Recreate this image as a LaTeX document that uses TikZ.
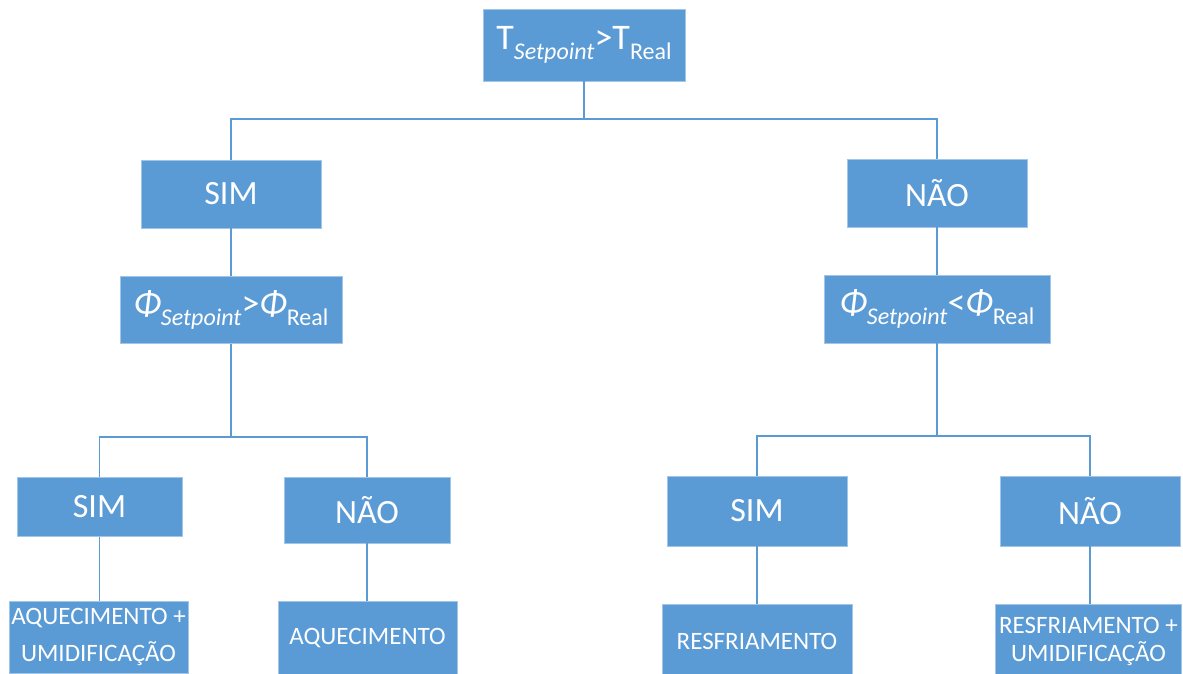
\documentclass[tikz,border=0pt]{standalone}
\usepackage{fontspec}
\setmainfont{Carlito}
\definecolor{officeblue}{HTML}{5B9BD5}
\definecolor{boxedge}{HTML}{A3C6E8}
\newcommand{\bigtxt}{\fontsize{34}{38}\selectfont}
\newcommand{\testtxt}{\fontsize{36}{40}\selectfont}
\newcommand{\midtxt}{\fontsize{25}{27}\selectfont}
\newcommand{\lowsub}[1]{\raisebox{-10pt}{\fontsize{24}{24}\selectfont #1}}
\begin{document}
\begin{tikzpicture}[x=1pt,y=-1pt,
  box/.style={fill=officeblue, draw=boxedge, line width=0.6pt, text=white,
              inner sep=0pt, align=center},
  answer/.style={box, font=\bigtxt},
  test/.style={box, font=\testtxt},
  action/.style={box, font=\midtxt},
  conn/.style={draw=officeblue, line width=1.4pt}]
\useasboundingbox (0,0) rectangle (1183,673);
\clip (0,0) rectangle (1183,673);

% root test
\node[test, minimum width=202pt, minimum height=72pt] (t) at (584,45)
  {T\lowsub{\textit{Setpoint}}>T\lowsub{Real}};

% first level answers
\node[answer, minimum width=180pt, minimum height=68pt] (simA) at (231,194) {SIM};
\node[answer, minimum width=180pt, minimum height=68pt] (naoA) at (937,193) {NÃO};

% humidity tests
\node[test, minimum width=222pt, minimum height=67pt] (phiL) at (231,310)
  {\textit{Φ}\lowsub{\textit{Setpoint}}>\textit{Φ}\lowsub{Real}};
\node[test, minimum width=226pt, minimum height=68pt] (phiR) at (937,309)
  {\textit{Φ}\lowsub{\textit{Setpoint}}<\textit{Φ}\lowsub{Real}};

% second level answers
\node[answer, minimum width=165pt, minimum height=59pt] (simL) at (99.5,507) {SIM};
\node[answer, minimum width=166pt, minimum height=66pt] (naoL) at (367,510) {NÃO};
\node[answer, minimum width=180pt, minimum height=70pt] (simR) at (757,511) {SIM};
\node[answer, minimum width=180pt, minimum height=70pt] (naoR) at (1090,511) {NÃO};

% actions
\node[action, minimum width=179pt, minimum height=72pt] (acA) at (98.5,637)
  {AQUECIMENTO +\\[10pt] UMIDIFICAÇÃO};
\node[action, minimum width=179pt, minimum height=74pt] (acB) at (367.5,638)
  {AQUECIMENTO};
\node[action, minimum width=190pt, minimum height=74pt] (acC) at (757,641)
  {RESFRIAMENTO};
\node[action, minimum width=186pt, minimum height=74pt] (acD) at (1088.5,641)
  {RESFRIAMENTO +\\[1pt] UMIDIFICAÇÃO};

% connectors
\draw[conn] (t.south) |- (simA.north |- 0,119) -- (simA.north);
\draw[conn] (t.south) |- (naoA.north |- 0,119) -- (naoA.north);
\draw[conn] (simA.south) -- (phiL.north);
\draw[conn] (naoA.south) -- (phiR.north);
\draw[conn] (phiL.south) |- (simL.north |- 0,437) -- (simL.north);
\draw[conn] (phiL.south) |- (naoL.north |- 0,437) -- (naoL.north);
\draw[conn] (phiR.south) |- (simR.north |- 0,436) -- (simR.north);
\draw[conn] (phiR.south) |- (naoR.north |- 0,436) -- (naoR.north);
\draw[conn] (simL.south) -- (simL.south |- acA.north);
\draw[conn] (naoL.south) -- (naoL.south |- acB.north);
\draw[conn] (simR.south) -- (simR.south |- acC.north);
\draw[conn] (naoR.south) -- (naoR.south |- acD.north);
\end{tikzpicture}
\end{document}
